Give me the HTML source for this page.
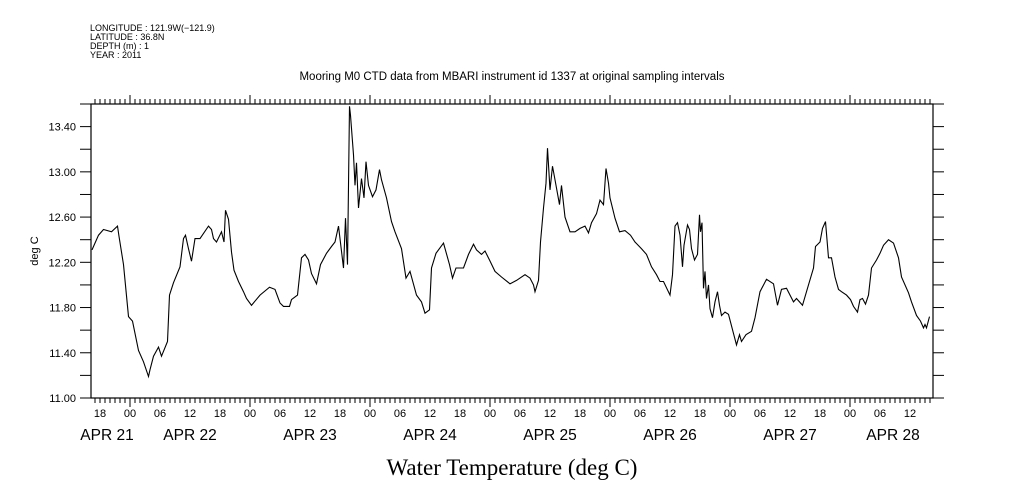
<!DOCTYPE html>
<html><head><meta charset="utf-8">
<style>
html,body{margin:0;padding:0;background:#fff;}
svg{display:block;}
text{font-family:"Liberation Sans",sans-serif;fill:#000;}
</style></head>
<body>
<svg id="chart" width="1009" height="504" viewBox="0 0 1009 504" xmlns="http://www.w3.org/2000/svg">
  <g font-size="9">
    <text x="90" y="31">LONGITUDE : 121.9W(−121.9)</text>
    <text x="90" y="40">LATITUDE : 36.8N</text>
    <text x="90" y="49">DEPTH (m) : 1</text>
    <text x="90" y="58">YEAR : 2011</text>
  </g>
  <text x="512" y="80" text-anchor="middle" font-size="11.5">Mooring M0 CTD data from MBARI instrument id 1337 at original sampling intervals</text>
  <text x="38" y="251" text-anchor="middle" font-size="11" transform="rotate(-90 38 251)">deg C</text>
  <text x="512" y="475" text-anchor="middle" font-size="23" style="font-family:'Liberation Serif',serif">Water Temperature (deg C)</text>
  <g id="axes"></g>
  <path id="series" fill="none" stroke="#000" stroke-width="1.1"/>
</svg>
<script>
// hours since APR 22 00:00
const hours = [-7.6,-6.3,-5.3,-3.7,-2.5,-2.2,-1.3,-0.3,0.5,1.7,2.7,3.7,4,4.7,5.7,6.3,7.5,7.9,8.7,10,10.7,11.1,11.7,12.3,13,14,15.7,16.3,16.7,17.3,18.3,18.8,19.1,19.7,20.3,20.8,21.7,22.7,23.3,24.3,26,27.9,29,30,30.7,31.9,32.3,33.5,34.3,35,35.7,36.3,37.3,38.1,39.3,40.3,41,41.7,42.7,43.1,43.5,43.7,43.9,44.1,44.7,45,45.3,45.7,46.3,46.8,47.2,47.7,48.5,49.2,49.9,50.3,51.3,52.3,53,54.3,55.2,56,57.3,58.3,59,59.9,60.3,61.2,62.7,63.9,64.5,65.2,66.7,67.7,68.7,69.3,70.3,71,71.9,73,74.3,76,77.3,79,80,80.7,81,81.7,82.1,82.7,83.2,83.5,84,84.5,85,85.9,86.3,87,88,89,90,91,91.7,92.3,93.3,94,94.7,95.2,95.7,96,97,97.9,99,100.1,101,102.3,103.3,104.3,105.3,106,106.7,108,108.5,109,109.5,110,110.5,110.8,111.5,111.9,112.3,112.9,113.5,113.9,114.1,114.4,114.7,115,115.3,115.7,116,116.5,117,117.5,117.9,118.3,119,119.7,120.7,121.3,121.9,122.3,123.2,124.3,125,126,127.3,128.7,129.5,130.3,131.3,132.7,133.3,134.5,135.7,136.7,137.1,138,138.5,139.1,139.7,140.3,141,141.7,142.3,143.3,144.1,144.7,145.5,146,146.5,147.1,147.7,148.3,149.3,150,150.7,151.7,152.7,153.7,154.3,155.7,156.3,157.3,158.1,158.7,159,159.3,159.9];
const temps = [12.31,12.44,12.49,12.47,12.52,12.43,12.18,11.72,11.68,11.42,11.32,11.19,11.25,11.37,11.45,11.37,11.50,11.91,12.02,12.16,12.41,12.44,12.32,12.21,12.41,12.41,12.52,12.49,12.41,12.38,12.47,12.38,12.66,12.58,12.29,12.13,12.03,11.94,11.88,11.82,11.91,11.98,11.96,11.84,11.81,11.81,11.87,11.91,12.24,12.27,12.22,12.10,12.01,12.18,12.28,12.34,12.38,12.52,12.15,12.59,12.18,12.88,13.58,13.50,13.15,12.88,13.08,12.68,12.94,12.77,13.09,12.88,12.78,12.84,13.02,12.93,12.77,12.56,12.47,12.32,12.06,12.12,11.91,11.85,11.75,11.78,12.15,12.28,12.37,12.18,12.06,12.15,12.15,12.27,12.36,12.31,12.27,12.30,12.22,12.12,12.07,12.01,12.04,12.09,12.06,12.00,11.94,12.04,12.38,12.68,12.90,13.21,12.84,13.05,12.93,12.71,12.88,12.60,12.47,12.47,12.50,12.52,12.46,12.55,12.63,12.75,12.71,13.03,12.90,12.77,12.59,12.47,12.48,12.44,12.38,12.32,12.27,12.16,12.09,12.03,12.03,11.91,12.09,12.52,12.55,12.44,12.16,12.35,12.53,12.49,12.32,12.22,12.27,12.62,12.47,12.55,11.97,12.12,11.88,12.00,11.79,11.71,11.85,11.94,11.82,11.73,11.76,11.74,11.57,11.47,11.56,11.50,11.56,11.59,11.71,11.94,12.05,12.01,11.82,11.96,11.97,11.85,11.88,11.82,12.00,12.15,12.34,12.38,12.50,12.56,12.24,12.24,12.07,11.96,11.94,11.91,11.87,11.81,11.76,11.87,11.88,11.83,11.91,12.15,12.22,12.28,12.35,12.40,12.37,12.24,12.07,11.93,11.85,11.73,11.68,11.62,11.65,11.62,11.72];
const yTickLabels = ["11.00","11.40","11.80","12.20","12.60","13.00","13.40"];
const hourTickLabels = ["18","00","06","12","18","00","06","12","18","00","06","12","18","00","06","12","18","00","06","12","18","00","06","12","18","00","06","12","18","00","06","12"];
const dateLabels = ["APR 21","APR 22","APR 23","APR 24","APR 25","APR 26","APR 27","APR 28"];

const L=91, R=933, T=104, B=398;
const xMin=-7.8, xMax=160.6, yMin=11.0, yMax=13.6;
const x = h => 130 + (h)*5;
const y = v => B - (v - yMin) / (yMax - yMin) * (B - T);
const NS="http://www.w3.org/2000/svg";
const axes=document.getElementById('axes');
function mk(tag, attrs){const e=document.createElementNS(NS,tag);for(const k in attrs)e.setAttribute(k,attrs[k]);axes.appendChild(e);return e;}

const frame=mk('rect',{x:L,y:T,width:R-L,height:B-T,fill:'none',stroke:'#000','stroke-width':1.2});



for(let i=0;i<=13;i++){
  const v=yMin+i*0.2, yy=y(v);
  const t1=mk('line',{x1:L-11,x2:L,y1:yy,y2:yy,stroke:'#000'});
  
  
  const t2=mk('line',{x1:R,x2:R+11,y1:yy,y2:yy,stroke:'#000'});
  
  
}
yTickLabels.forEach(s=>{
  const t=mk('text',{x:L-15,y:y(parseFloat(s))+4,'text-anchor':'end','font-size':11});
  t.textContent=s;
  
  
});
for(let h=Math.ceil(xMin);h<=xMax;h++){
  const xx=x(h); const major=(h%24===0);
  const b=mk('line',{x1:xx,x2:xx,y1:B,y2:B+(major?9:5),stroke:'#000'});
  
  
  const t=mk('line',{x1:xx,x2:xx,y1:T,y2:T-(major?9:5),stroke:'#000'});
  
  
}
hourTickLabels.forEach((s,i)=>{
  const h=-6+i*6;
  if(x(h)>R) return;
  const t=mk('text',{x:x(h),y:417,'text-anchor':'middle','font-size':11});
  t.textContent=s;
  
  
});
dateLabels.forEach((s,i)=>{
  let cx=x(-12+i*24);
  cx=Math.max(cx,107); cx=Math.min(cx,893);
  const t=mk('text',{x:cx,y:440,'text-anchor':'middle','font-size':15.5});
  t.textContent=s;
  
  
});
let d='';
hours.forEach((h,i)=>{d+=(i?'L':'M')+x(h).toFixed(1)+','+y(temps[i]).toFixed(1);});
document.getElementById('series').setAttribute('d',d);
</script>
</body></html>
